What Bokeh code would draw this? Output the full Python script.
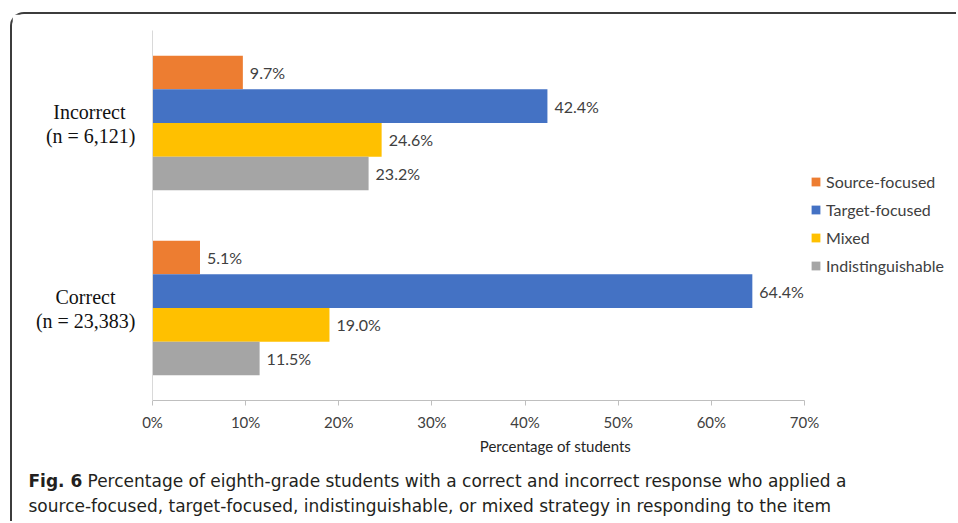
from bokeh.plotting import figure
from bokeh.models import (Range1d, Legend, LegendItem, Label,
                          ColumnDataSource, FixedTicker)
from bokeh.transform import dodge
from bokeh.core.properties import value
from bokeh.embed import file_html
from bokeh.resources import INLINE

# ---- data ----
groups = ["Incorrect", "Correct"]
group_ns = ["6,121", "23,383"]
series = ["Source-focused", "Target-focused", "Mixed", "Indistinguishable"]
source_focused = [9.7, 5.1]
target_focused = [42.4, 64.4]
mixed = [24.6, 19.0]
indistinguishable = [23.2, 11.5]
x_ticks = [0, 10, 20, 30, 40, 50, 60, 70]
x_title = "Percentage of students"
caption_bold = "Fig. 6"
caption_line1 = "Percentage of eighth-grade students with a correct and incorrect response who applied a"
caption_line2 = "source-focused, target-focused, indistinguishable, or mixed strategy in responding to the item"

colors = ["#ED7D31", "#4472C4", "#FFC000", "#A5A5A5"]
values = [source_focused, target_focused, mixed, indistinguishable]

FONT = "Lato"
CAP_FONT = "DejaVu Sans"
TXT = "#404040"
NB = "\u00a0"

n_groups = len(groups)
# group slot centres, first group at the top
group_pos = [n_groups - 0.5 - i for i in range(n_groups)]

W, H = 946, 509
LEFT = 140
AXIS_PX = 652          # pixel length of the 0-70 % axis
x_max = x_ticks[-1]
x_end = x_max * (W - LEFT) / AXIS_PX   # frame extends to the right edge (room for legend)

p = figure(width=W, height=H, output_backend="svg", toolbar_location=None,
           y_range=Range1d(0, n_groups), x_range=Range1d(0, x_end),
           min_border_left=LEFT, min_border_right=0, min_border_top=16,
           min_border_bottom=123)
p.margin = (12, 0, 0, 10)
p.styles = {"border-left": "2px solid #3c3c3c", "border-top": "2px solid #3c3c3c",
            "border-top-left-radius": "14px"}
p.outline_line_color = None
p.xgrid.visible = False
p.ygrid.visible = False

bar_h = 0.182
offsets = [1.5 * bar_h, 0.5 * bar_h, -0.5 * bar_h, -1.5 * bar_h]
items = []
for name, vals, col, off in zip(series, values, colors, offsets):
    src = ColumnDataSource(dict(pos=group_pos, value=vals,
                                label=[f"{v:.1f}%" for v in vals]))
    r = p.hbar(y=dodge("pos", off), left=0, right="value",
               height=bar_h, source=src, fill_color=col, line_color=None)
    p.text(x="value", y=dodge("pos", off), text="label",
           source=src, x_offset=7, text_baseline="middle", text_align="left",
           text_font=value(FONT), text_font_size="16px", text_color=TXT)
    items.append(LegendItem(label=name, renderers=[r]))

legend = Legend(items=items, location=(AXIS_PX + 6, 125), padding=0, margin=0,
                border_line_color=None, background_fill_alpha=0,
                glyph_width=11, glyph_height=11, label_height=18, spacing=9,
                label_standoff=5, label_text_font=FONT,
                label_text_font_size="16px", label_text_color=TXT)
p.add_layout(legend, "center")

# x axis
p.xaxis.bounds = (0, x_max)
p.xaxis.ticker = FixedTicker(ticks=x_ticks)
p.xaxis.major_label_overrides = {t: f"{t}%" for t in x_ticks}
p.xaxis.axis_line_color = "#bfbfbf"
p.xaxis.major_tick_line_color = "#bfbfbf"
p.xaxis.major_tick_out = 5
p.xaxis.major_tick_in = 0
p.xaxis.minor_tick_line_color = None
p.xaxis.major_label_standoff = 7
p.xaxis.major_label_text_font = FONT
p.xaxis.major_label_text_font_size = "15px"
p.xaxis.major_label_text_color = TXT
p.xaxis.axis_label = x_title
p.xaxis.axis_label_standoff = 3
p.xaxis.axis_label_text_font = FONT
p.xaxis.axis_label_text_font_size = "15px"
p.xaxis.axis_label_text_font_style = "normal"
p.xaxis.axis_label_text_color = "#262626"

# y axis: two text lines per group (first line padded so both lines look centred)
tick_pos, tick_txt = [], []
for g, n, c in zip(groups, group_ns, group_pos):
    second = f"(n = {n})"
    pad = max(0, round((len(second) - len(g)) * 0.8))
    tick_pos += [round(c + 0.06, 3), round(c - 0.07, 3)]
    tick_txt += [g + NB * pad, second]
p.yaxis.ticker = FixedTicker(ticks=tick_pos)
p.yaxis.major_label_overrides = dict(zip(tick_pos, tick_txt))
p.yaxis.axis_line_color = "#d9d9d9"
p.yaxis.major_tick_line_color = None
p.yaxis.minor_tick_line_color = None
p.yaxis.major_tick_out = 0
p.yaxis.major_tick_in = 0
p.yaxis.major_label_standoff = 17
p.yaxis.major_label_text_font = "Liberation Serif"
p.yaxis.major_label_text_font_size = "20px"
p.yaxis.major_label_text_color = "#111111"

# caption, placed in the panel below the plot so it is not clipped
cap_x = 14
fs = "17px"
cap_common = dict(x_units="canvas", y_units="canvas", text_font=CAP_FONT,
                  text_font_size=fs, text_color="#231f20", text_baseline="middle")
p.add_layout(Label(x=cap_x, y=464, text=caption_bold, text_font_style="bold",
                   **cap_common), "below")
p.add_layout(Label(x=cap_x + 59, y=464, text=caption_line1, **cap_common), "below")
p.add_layout(Label(x=cap_x, y=489, text=caption_line2, **cap_common), "below")

open("out.html", "w").write(file_html(p, INLINE))
